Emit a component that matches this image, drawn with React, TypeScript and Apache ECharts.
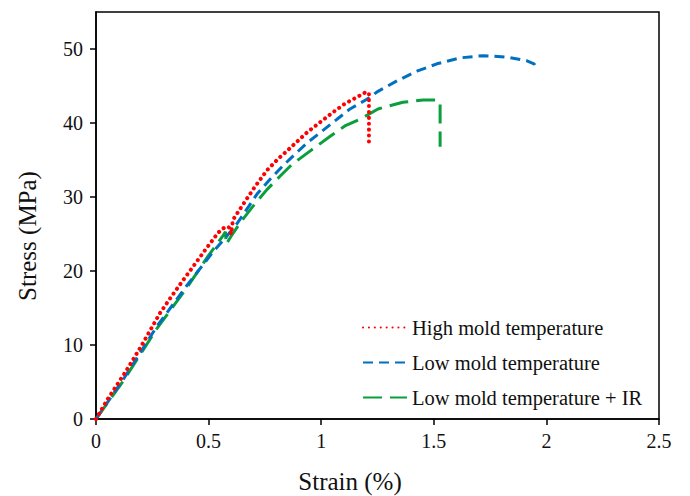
import React, { useEffect, useRef } from "react";
import * as echarts from "echarts";

const highStrain = [0, 0.05, 0.136, 0.2, 0.284, 0.336, 0.388, 0.448, 0.491, 0.543, 0.575, 0.59, 0.6, 0.608, 0.653, 0.706, 0.759, 0.81, 0.84, 0.89, 0.94, 0.995, 1.05, 1.105, 1.165, 1.2, 1.212, 1.212];
const highStress = [0, 2.6, 6.6, 9.8, 14.3, 16.6, 18.8, 21.3, 23.1, 25.2, 26.0, 25.9, 25.0, 26.9, 29.0, 31.4, 33.6, 35.2, 36.0, 37.4, 38.8, 40.1, 41.4, 42.6, 43.6, 44.2, 44.0, 37.2];

const lowStrain = [0, 0.12, 0.27, 0.4, 0.52, 0.58, 0.617, 0.662, 0.715, 0.773, 0.826, 0.884, 0.941, 1.004, 1.07, 1.128, 1.203, 1.248, 1.337, 1.425, 1.514, 1.616, 1.719, 1.825, 1.914, 1.945, 1.96];
const lowStress = [0, 5.3, 12.5, 17.9, 22.6, 24.7, 26.0, 28.0, 30.4, 32.4, 34.1, 35.8, 37.4, 38.9, 40.5, 41.9, 43.2, 44.2, 45.7, 47.0, 48.0, 48.8, 49.1, 48.9, 48.4, 48.0, 47.3];

const irStrain = [0, 0.12, 0.27, 0.4, 0.5, 0.56, 0.575, 0.578, 0.6, 0.64, 0.693, 0.759, 0.817, 0.87, 0.95, 1.04, 1.105, 1.172, 1.252, 1.363, 1.452, 1.514, 1.528, 1.528];
const irStress = [0, 5.1, 12.2, 17.6, 22.1, 24.6, 25.3, 23.6, 24.7, 26.5, 28.6, 31.0, 32.8, 34.4, 36.2, 38.2, 39.6, 40.5, 41.9, 42.8, 43.1, 43.1, 42.8, 36.8];

const seriesNames = ["High mold temperature", "Low mold temperature", "Low mold temperature + IR"];
const yTicks = [0, 10, 20, 30, 40, 50];
const xTitle = "Strain (%)";
const yTitle = "Stress (MPa)";

const FONT = "Liberation Serif";

const pairs = (xs: number[], ys: number[]) => xs.map((x, i) => [x, ys[i]]);

export default function App() {
  const ref = useRef<HTMLDivElement>(null);
  useEffect(() => {
    if (!ref.current) return;
    const chart = echarts.init(ref.current, null, { renderer: "svg" });
    chart.setOption({
      animation: false,
      backgroundColor: "#ffffff",
      textStyle: { fontFamily: FONT },
      grid: {
        left: 96,
        right: 31,
        top: 12,
        bottom: 77,
        show: true,
        borderColor: "#000",
        borderWidth: 1.5,
        containLabel: false,
      },
      xAxis: {
        type: "value",
        min: 0,
        max: 2.5,
        interval: 0.5,
        axisLine: { show: true, onZero: false, lineStyle: { color: "#000", width: 1.5 } },
        axisTick: { show: true, inside: false, length: 6, lineStyle: { color: "#000", width: 1.5 } },
        axisLabel: { color: "#111", fontFamily: FONT, fontSize: 20, margin: 12 },
        splitLine: { show: false },
      },
      yAxis: {
        type: "value",
        min: 0,
        max: 55,
        interval: 10,
        axisLine: { show: true, onZero: false, lineStyle: { color: "#000", width: 1.5 } },
        axisTick: { show: true, inside: false, length: 6, customValues: yTicks, lineStyle: { color: "#000", width: 1.5 } },
        axisLabel: { color: "#111", fontFamily: FONT, fontSize: 20, margin: 13, customValues: yTicks },
        splitLine: { show: false },
      },
      legend: {
        orient: "vertical",
        left: 362,
        top: 317,
        padding: 0,
        itemWidth: 44,
        itemHeight: 14,
        itemGap: 14,
        itemStyle: { opacity: 0 },
        textStyle: { color: "#111", fontFamily: FONT, fontSize: 20.5 },
        data: seriesNames,
      },
      graphic: [
        {
          type: "text",
          x: 27,
          y: 236,
          rotation: Math.PI / 2,
          style: { text: yTitle, fill: "#111", fontFamily: FONT, fontSize: 25, textAlign: "center", textVerticalAlign: "middle" },
        },
        {
          type: "text",
          x: 350,
          y: 481,
          style: { text: xTitle, fill: "#111", fontFamily: FONT, fontSize: 25, textAlign: "center", textVerticalAlign: "middle" },
        },
      ],
      series: [
        {
          name: seriesNames[0],
          type: "line",
          data: pairs(highStrain, highStress),
          showSymbol: false,
          symbol: "none",
          color: "#ff0000",
          lineStyle: { color: "#ff0000", width: 4, type: [0.1, 5.8], cap: "round" },
          z: 3,
        },
        {
          name: seriesNames[1],
          type: "line",
          data: pairs(lowStrain, lowStress),
          showSymbol: false,
          symbol: "none",
          color: "#0070c0",
          lineStyle: { color: "#0070c0", width: 3, type: [10, 6] },
          z: 2,
        },
        {
          name: seriesNames[2],
          type: "line",
          data: pairs(irStrain, irStress),
          showSymbol: false,
          symbol: "none",
          color: "#0a9e3c",
          lineStyle: { color: "#0a9e3c", width: 3, type: [19, 8] },
          z: 1,
        },
      ],
    });
    return () => chart.dispose();
  }, []);
  return <div ref={ref} style={{ position: "fixed", left: 0, top: 0, width: 690, height: 496 }} />;
}
